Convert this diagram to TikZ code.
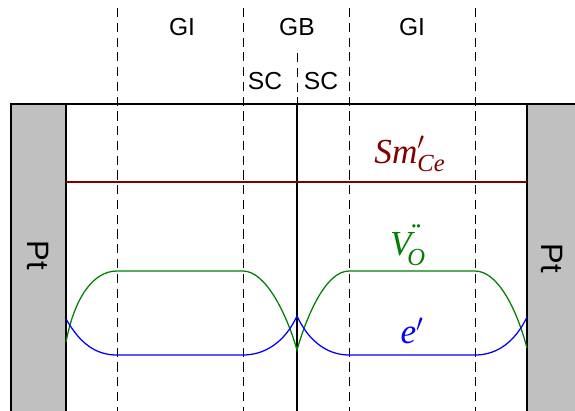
\documentclass[tikz,border=0pt]{standalone}
\usepackage{amsmath}
\usepackage{fontspec}
\setmainfont{Liberation Sans}
\newfontfamily\timesfont{Liberation Serif}
\usetikzlibrary{positioning}
\definecolor{smred}{RGB}{128,0,0}
\definecolor{vgreen}{RGB}{0,128,0}
\definecolor{eblue}{RGB}{0,0,255}
\definecolor{ptgray}{RGB}{192,192,192}
\newcommand{\tim}[1]{\text{\timesfont\itshape #1}}
\newcommand{\vacdots}{\text{\raisebox{-0.25em}{\fontsize{20}{20}\selectfont\timesfont\bfseries ¨}}}
\tikzset{
	zone/.style={draw=black, line width=0.6pt, dash pattern=on 6.5pt off 4pt},
	wall/.style={draw=black, line width=1.4pt},
	conc/.style={line width=0.9pt},
	zonelabel/.style={anchor=center, inner sep=0pt, font=\fontsize{17.5}{19}\selectfont},
	ptlabel/.style={anchor=center, inner sep=0pt, rotate=-90, font=\fontsize{22}{24}\selectfont},
	curvelabel/.style={anchor=center, inner sep=0pt, font=\fontsize{25}{27}\selectfont}
}
\begin{document}
\begin{tikzpicture}[x=0.025cm, y=-0.025cm]
	\useasboundingbox (0,0) rectangle (575,410);
	% Paths, nodes and wires:
	\draw[wall, fill=ptgray] (11,420) |- (66,104) -- (66,420);
	\fill[ptgray] (527,104) rectangle (590,420);
	\draw[wall] (11,104) -- (590,104);
	\draw[wall] (527,104) -- (527,420);
	\draw[wall] (297,104) -- (297,420);
	\foreach \x in {117,243,349,475}
		\draw[zone] (\x,8) -- (\x,412);
	\draw[zone] (297,53) -- (297,104);
	\node[zonelabel] (gileft) at (182,27) {GI};
	\node[zonelabel] (gb) at (297,27) {GB};
	\node[zonelabel] (giright) at (412,27) {GI};
	\node[zonelabel] (scleft) at (265,81) {SC};
	\node[zonelabel] (scright) at (321,81) {SC};
	\node[ptlabel] (ptleft) at (38,255) {Pt};
	\node[ptlabel] (ptright) at (552,258) {Pt};
	% Concentration profiles:
	\draw[conc, smred] (66,182) -- (527,182);
	\draw[conc, vgreen] (66,342) .. controls (74,300) and (92,271) .. (117,271) -- (243,271)
		.. controls (266,271) and (287,315) .. (297,350)
		.. controls (307,315) and (326,271) .. (349,271) -- (475,271)
		.. controls (498,271) and (517,310) .. (527,348);
	\draw[conc, eblue] (66,319) .. controls (80,343) and (95,355) .. (117,355) -- (243,355)
		.. controls (265,355) and (285,342) .. (297,316)
		.. controls (309,342) and (328,355) .. (349,355) -- (475,355)
		.. controls (497,355) and (515,342) .. (527,317);
	\node[curvelabel, text=smred] (sm) at (410,154) {$\tim{Sm}'_{\tim{Ce}}$};
	\node[curvelabel, text=vgreen] (vo) at (408,245) {$\tim{V}_{\!\tim{O}}^{\vacdots}$};
	\node[curvelabel, text=eblue] (el) at (412,331) {$\tim{e}'$};
\end{tikzpicture}
\end{document}
